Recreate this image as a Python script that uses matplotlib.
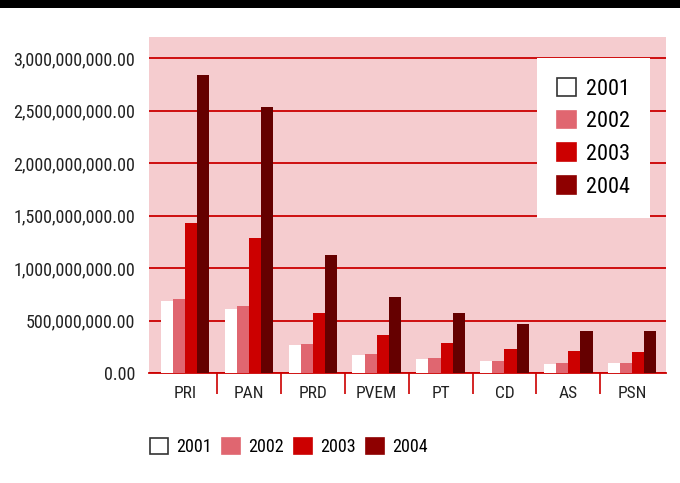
import matplotlib
matplotlib.use('Agg')
import matplotlib.pyplot as plt
import matplotlib.patches as mpatches
from matplotlib.ticker import FuncFormatter, FixedLocator
import numpy as np

plt.rcParams['font.family'] = ['DejaVu Sans Condensed', 'Roboto Condensed',
                               'Liberation Sans Narrow', 'DejaVu Sans']
plt.rcParams['font.stretch'] = 'condensed'

# Data
parties = ['PRI', 'PAN', 'PRD', 'PVEM', 'PT', 'CD', 'AS', 'PSN']
years = ['2001', '2002', '2003', '2004']
v2001 = [686e6, 610e6, 267e6, 171e6, 133e6, 114e6, 86e6, 95e6]
v2002 = [705e6, 638e6, 276e6, 181e6, 143e6, 114e6, 95e6, 95e6]
v2003 = [1430e6, 1286e6, 571e6, 362e6, 286e6, 229e6, 210e6, 200e6]
v2004 = [2840e6, 2533e6, 1124e6, 724e6, 571e6, 467e6, 400e6, 400e6]
yticks = [0, 5e8, 1e9, 1.5e9, 2e9, 2.5e9, 3e9]

bar_colors = ['#FFFFFF', '#E06670', '#CC0000', '#650000']
legend_colors = ['#FFFFFF', '#E06670', '#CC0000', '#8E0000']
pink = '#F5CCCF'
red = '#CC0000'

fig = plt.figure(figsize=(6.8, 4.83), dpi=100)
ax = fig.add_axes([149/680, 110/483, 517/680, 336/483])
ax.set_facecolor(pink)

x = np.arange(len(parties))
w = 0.19
series = [v2001, v2002, v2003, v2004]
for i, vals in enumerate(series):
    ax.bar(x + (i - 1.5) * w, vals, w, color=bar_colors[i], zorder=3)

ax.set_xlim(-0.566, 7.53)
ax.set_ylim(0, 3.2e9)
ax.set_yticks(yticks)
ax.yaxis.set_major_formatter(FuncFormatter(lambda v, p: '{:,.2f}'.format(v)))
ax.grid(axis='y', color=red, linewidth=1.3, zorder=1)
ax.tick_params(axis='y', length=0, labelsize=13, pad=10, labelcolor='#222222')

# ticks between categories, labels at centers
ax.xaxis.set_major_locator(FixedLocator(np.arange(0.5, 7.5, 1)))
ax.xaxis.set_major_formatter(FuncFormatter(lambda v, p: ''))
ax.set_xticks(x, parties, minor=True)
ax.tick_params(axis='x', which='major', length=15, color=red, width=1.2)
ax.tick_params(axis='x', which='minor', length=0, labelsize=12.5, pad=9,
               labelcolor='#222222')

for s in ['top', 'right', 'left']:
    ax.spines[s].set_visible(False)
ax.spines['bottom'].set_color(red)
ax.spines['bottom'].set_linewidth(1.3)

handles = [mpatches.Patch(facecolor=c, edgecolor=('#333333' if c == '#FFFFFF' else c),
                          linewidth=1.2, label=y) for c, y in zip(legend_colors, years)]

leg = ax.legend(handles=handles, loc='upper left', bbox_to_anchor=(388/517, 1 - 21/336),
                fontsize=16, frameon=True, fancybox=False, edgecolor='white',
                framealpha=1, handlelength=0.85, handleheight=0.85,
                handletextpad=0.45, labelspacing=0.5, borderpad=0.9,
                borderaxespad=0)
leg.get_frame().set_linewidth(0)

fig.legend(handles=handles, loc='lower left', bbox_to_anchor=(143/680, 20/483),
           ncol=4, fontsize=13, frameon=False, handlelength=1.0, handleheight=1.0,
           handletextpad=0.45, columnspacing=0.55, borderaxespad=0)

# black band at top
fig.patches.append(mpatches.Rectangle((0, 1 - 8/483), 1, 8/483, transform=fig.transFigure,
                                      facecolor='black', edgecolor='none'))

fig.savefig('out.png', dpi=100)
